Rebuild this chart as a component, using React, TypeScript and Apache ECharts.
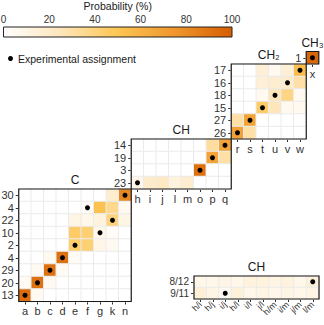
import React, { useEffect, useRef } from 'react';
import * as echarts from 'echarts';

// ---------- data ----------
const PROB_TICKS = [0, 20, 40, 60, 80, 100];
const LEGEND_LABEL = 'Experimental assignment';

const C_COLS = ['a', 'b', 'c', 'd', 'e', 'f', 'g', 'k', 'n'];
const C_ROWS = ['30', '4', '22', '10', '2', '4', '29', '20', '13']; // top to bottom
const C_VALUES = [
  [0, 0, 0, 0, 0, 0, 0, 18, 82],
  [0, 0, 0, 0, 0, 3, 52, 36, 6],
  [0, 0, 0, 0, 10, 8, 12, 40, 10],
  [0, 0, 0, 0, 45, 42, 8, 3, 0],
  [0, 0, 0, 0, 44, 42, 9, 5, 0],
  [0, 0, 5, 91, 4, 0, 0, 0, 0],
  [0, 5, 91, 4, 0, 0, 0, 0, 0],
  [4, 91, 5, 0, 0, 0, 0, 0, 0],
  [94, 5, 0, 0, 0, 0, 0, 0, 0],
];
const C_ASSIGN = ['n', 'f', 'k', 'g', 'e', 'd', 'c', 'b', 'a'];

const CH_COLS = ['h', 'i', 'j', 'l', 'm', 'o', 'p', 'q'];
const CH_ROWS = ['14', '19', '3', '23'];
const CH_VALUES = [
  [0, 0, 0, 0, 0, 0, 32, 68],
  [0, 0, 0, 0, 0, 0, 68, 30],
  [0, 0, 0, 0, 0, 92, 0, 0],
  [9, 20, 22, 12, 18, 0, 0, 0],
];
const CH_ASSIGN = ['q', 'p', 'o', 'h'];

const CH2_COLS = ['r', 's', 't', 'u', 'v', 'w'];
const CH2_ROWS = ['17', '16', '18', '15', '27', '26'];
const CH2_VALUES = [
  [0, 0, 15, 6, 15, 55],
  [0, 0, 15, 18, 20, 30],
  [0, 0, 6, 25, 38, 6],
  [0, 0, 45, 25, 6, 6],
  [30, 68, 0, 0, 0, 0],
  [70, 30, 0, 0, 0, 0],
];
const CH2_ASSIGN = ['w', 'v', 'u', 't', 's', 'r'];

const CH3_COLS = ['x'];
const CH3_ROWS = ['1'];
const CH3_VALUES = [[96]];
const CH3_ASSIGN = ['x'];

const CHB_COLS = ['h/i', 'h/j', 'i/j', 'h/l', 'i/l', 'j/l', 'h/m', 'i/m', 'j/m', 'l/m'];
const CHB_ROWS = ['8/12', '9/11'];
const CHB_VALUES = [
  [8, 8, 10, 8, 12, 12, 10, 12, 8, 14],
  [15, 10, 5, 14, 8, 10, 8, 10, 8, 10],
];
const CHB_ASSIGN = ['l/m', 'i/j'];

// ---------- style ----------
const FONT = '"Liberation Sans", Arial, sans-serif';
const STOPS = ['#ffffff', '#fee6bb', '#fdc653', '#f0962c', '#d55e00'];
const TEXT = '#333333';

export default function App() {
  const ref = useRef<HTMLDivElement>(null);

  useEffect(() => {
    const chart = echarts.init(ref.current!, undefined, { renderer: 'svg' });

    const panels = [
      { title: 'C', cols: C_COLS, rows: C_ROWS, values: C_VALUES, assign: C_ASSIGN,
        box: { left: 18.75, top: 189, width: 112.5, height: 112.5 }, xFont: 11, yFont: 11, rotate: 0 },
      { title: 'CH', cols: CH_COLS, rows: CH_ROWS, values: CH_VALUES, assign: CH_ASSIGN,
        box: { left: 131.25, top: 139, width: 100, height: 50 }, xFont: 11, yFont: 11, rotate: 0 },
      { title: 'CH₂', cols: CH2_COLS, rows: CH2_ROWS, values: CH2_VALUES, assign: CH2_ASSIGN,
        box: { left: 231.25, top: 64, width: 75, height: 75 }, xFont: 11, yFont: 11, rotate: 0 },
      { title: 'CH₃', cols: CH3_COLS, rows: CH3_ROWS, values: CH3_VALUES, assign: CH3_ASSIGN,
        box: { left: 306.25, top: 51.5, width: 12.5, height: 12.5 }, xFont: 11, yFont: 11, rotate: 0 },
      { title: 'CH', cols: CHB_COLS, rows: CHB_ROWS, values: CHB_VALUES, assign: CHB_ASSIGN,
        box: { left: 194, top: 276, width: 125, height: 23 }, xFont: 9, yFont: 10, rotate: 45 },
    ];

    const grids: any[] = [
      {
        left: 3.5, top: 27, width: 228.5, height: 10, show: true,
        backgroundColor: new echarts.graphic.LinearGradient(0, 0, 1, 0,
          STOPS.map((c, i) => ({ offset: i / (STOPS.length - 1), color: c }))),
        borderColor: '#222', borderWidth: 1,
        outerBoundsMode: 'none',
      },
    ];
    const xAxes: any[] = [
      {
        gridIndex: 0, type: 'value', min: PROB_TICKS[0], max: PROB_TICKS[PROB_TICKS.length - 1],
        interval: PROB_TICKS[1] - PROB_TICKS[0], position: 'top',
        axisLine: { show: false }, axisTick: { show: false }, splitLine: { show: false },
        axisLabel: { fontSize: 10, margin: 3, color: TEXT, fontFamily: FONT },
        name: 'Probability (%)', nameLocation: 'middle', nameGap: 16,
        nameTextStyle: { fontSize: 10.5, color: '#1a1a1a', fontFamily: FONT },
      },
    ];
    const yAxes: any[] = [{ gridIndex: 0, type: 'value', show: false, min: 0, max: 1 }];
    const series: any[] = [];
    const heatIdx: number[] = [];
    const graphics: any[] = [];

    panels.forEach((p, i) => {
      const gi = i + 1;
      grids.push({ ...p.box, outerBoundsMode: 'none' });
      xAxes.push({
        gridIndex: gi, type: 'category', data: p.cols, position: 'bottom',
        axisLine: { show: false },
        axisTick: { show: true, alignWithLabel: true, length: 3, lineStyle: { color: '#333', width: 1 } },
        axisLabel: { fontSize: p.xFont, color: TEXT, margin: 4, rotate: p.rotate, fontFamily: FONT, interval: 0 },
        splitLine: { show: false },
      });
      yAxes.push({
        gridIndex: gi, type: 'category', data: p.rows, inverse: true,
        axisLine: { show: false },
        axisTick: { show: true, alignWithLabel: true, length: 3, lineStyle: { color: '#333', width: 1 } },
        axisLabel: { fontSize: p.yFont, color: TEXT, margin: 5, fontFamily: FONT, interval: 0 },
        splitLine: { show: false },
      });
      const data: number[][] = [];
      p.values.forEach((row, r) => row.forEach((v, c) => data.push([c, r, v])));
      heatIdx.push(series.length);
      series.push({
        type: 'heatmap', xAxisIndex: gi, yAxisIndex: gi, data,
        itemStyle: { borderColor: '#ebebeb', borderWidth: 1 },
        emphasis: { disabled: true },
      });
      series.push({
        type: 'scatter', name: LEGEND_LABEL, xAxisIndex: gi, yAxisIndex: gi,
        data: p.assign.map((col, r) => [p.cols.indexOf(col), r]),
        symbol: 'circle', symbolSize: 5, itemStyle: { color: '#000', opacity: 1 }, z: 5,
        emphasis: { disabled: true },
      });
      graphics.push({
        type: 'rect', z: 100, silent: true,
        shape: { x: p.box.left, y: p.box.top, width: p.box.width, height: p.box.height },
        style: { fill: 'none', stroke: '#1a1a1a', lineWidth: 1.2 },
      });
      graphics.push({
        type: 'text', z: 100, silent: true,
        x: p.box.left + p.box.width / 2, y: p.box.top - 9,
        style: {
          text: p.title, textAlign: 'center', textVerticalAlign: 'middle',
          fontSize: 12, fill: '#1a1a1a', fontFamily: FONT,
        },
      });
    });

    chart.setOption({
      animation: false,
      backgroundColor: '#ffffff',
      textStyle: { fontFamily: FONT },
      grid: grids,
      xAxis: xAxes,
      yAxis: yAxes,
      visualMap: {
        type: 'continuous', show: false, min: 0, max: 100,
        seriesIndex: heatIdx, inRange: { color: STOPS },
      },
      legend: {
        data: [LEGEND_LABEL], left: 3, top: 48, icon: 'circle',
        itemWidth: 5, itemHeight: 5, itemGap: 5, selectedMode: false,
        itemStyle: { color: '#000', opacity: 1 },
        textStyle: { fontSize: 10.5, color: '#1a1a1a', fontFamily: FONT },
      },
      graphic: graphics,
      series,
    });

    return () => chart.dispose();
  }, []);

  return (
    <div
      ref={ref}
      style={{ position: 'fixed', left: 0, top: 0, width: 324, height: 325, background: '#fff' }}
    />
  );
}
